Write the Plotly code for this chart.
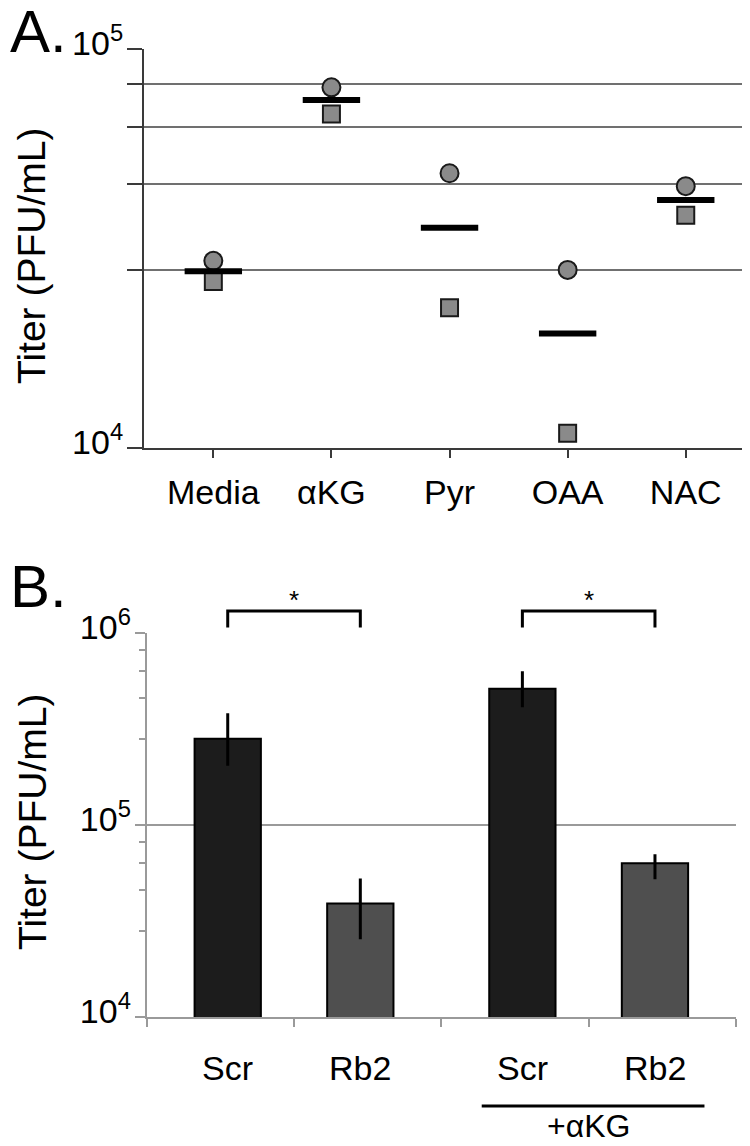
import plotly.graph_objects as go

# Panel A: titer per supplement, two replicates plus their mean
supplements = ["Media", "αKG", "Pyr", "OAA", "NAC"]
rep_circle = [2.95e4, 8.03e4, 4.89e4, 2.80e4, 4.54e4]
rep_square = [2.62e4, 6.88e4, 2.25e4, 1.09e4, 3.84e4]
rep_mean = [2.78e4, 7.46e4, 3.57e4, 1.94e4, 4.19e4]
a_ticks = [1e4, 2.8e4, 4.6e4, 6.4e4, 8.2e4, 1e5]
a_ticktext = ["10<sup>4</sup>", "", "", "", "", "10<sup>5</sup>"]

# Panel B: bars for Scr / Rb2, without and with aKG
groups = [0, 1]
scr_titer = [2.82e5, 5.15e5]
scr_err_up = [1.01e5, 1.19e5]
scr_err_down = [0.78e5, 1.03e5]
rb2_titer = [3.92e4, 6.34e4]
rb2_err_up = [1.37e4, 0.72e4]
rb2_err_down = [1.37e4, 1.11e4]
b_ticks = [1e4, 1e5, 1e6]
b_ticktext = ["10<sup>4</sup>", "10<sup>5</sup>", "10<sup>6</sup>"]
b_minor = [2.8e4, 4.6e4, 6.4e4, 8.2e4, 2.8e5, 4.6e5, 6.4e5, 8.2e5]

FONT = "Liberation Sans, Arial, sans-serif"
# the page body adds an 8px margin, so the figure is drawn 8px smaller
OFF = 8
W = 750 - OFF
H = 1146 - OFF


def px(pix):
    # screen column -> paper x
    return (pix - OFF) / W


def py(pix):
    # screen row -> paper y
    return (H - (pix - OFF)) / H


fig = go.Figure()

fig.add_trace(go.Scatter(
    x=list(range(len(supplements))), y=rep_circle, mode="markers",
    marker=dict(symbol="circle", size=18, color="#8a8a8a",
                line=dict(color="#1a1a1a", width=2)),
    xaxis="x", yaxis="y",
))
fig.add_trace(go.Scatter(
    x=list(range(len(supplements))), y=rep_square, mode="markers",
    marker=dict(symbol="square", size=17, color="#8a8a8a",
                line=dict(color="#1a1a1a", width=2)),
    xaxis="x", yaxis="y",
))
fig.add_trace(go.Scatter(
    x=list(range(len(supplements))), y=rep_mean, mode="markers",
    marker=dict(symbol="line-ew", size=41, line=dict(color="black", width=6)),
    xaxis="x", yaxis="y",
))

fig.add_trace(go.Bar(
    x=groups, y=scr_titer, marker=dict(color="#1c1c1c", line=dict(color="black", width=2)),
    error_y=dict(type="data", array=scr_err_up, arrayminus=scr_err_down,
                 color="black", thickness=3, width=0),
    xaxis="x2", yaxis="y2",
))
fig.add_trace(go.Bar(
    x=groups, y=rb2_titer, marker=dict(color="#4f4f4f", line=dict(color="black", width=2)),
    error_y=dict(type="data", array=rb2_err_up, arrayminus=rb2_err_down,
                 color="black", thickness=3, width=0),
    xaxis="x2", yaxis="y2",
))

fig.update_layout(
    width=W, height=H,
    margin=dict(l=0, r=0, t=0, b=0, autoexpand=False),
    paper_bgcolor="white", plot_bgcolor="white",
    showlegend=False,
    font=dict(family=FONT, color="black", size=33),
    barmode="group", bargap=0.1, bargroupgap=0.5,
    xaxis=dict(
        domain=[px(144), 1.0], anchor="y", automargin=False,
        range=[-0.587, 4.544],
        tickmode="array", tickvals=list(range(len(supplements))), ticktext=supplements,
        ticks="outside", ticklen=8, tickwidth=2, tickcolor="#3a3a3a",
        showline=True, linecolor="#3a3a3a", linewidth=2,
        showgrid=False, zeroline=False,
        tickfont=dict(size=34), ticklabelstandoff=5,
    ),
    yaxis=dict(
        domain=[py(448.3), py(49.3)], anchor="x", automargin=False,
        type="log", range=[4, 5],
        tickmode="array", tickvals=a_ticks, ticktext=a_ticktext,
        ticks="outside", ticklen=15, tickwidth=2, tickcolor="#3a3a3a",
        showline=True, linecolor="#3a3a3a", linewidth=2,
        showgrid=True, gridcolor="#707070", gridwidth=2, zeroline=False,
        tickfont=dict(size=34), ticklabelstandoff=-3, ticklabelshift=-6,
    ),
    xaxis2=dict(
        domain=[px(146.7), px(736)], anchor="y2", automargin=False,
        range=[-0.5, 1.5],
        tickmode="array", tickvals=[-0.5, 0, 0.5, 1, 1.5], ticktext=["", "", "", "", ""],
        ticks="outside", ticklen=8, tickwidth=2, tickcolor="#9a9a9a",
        showline=True, linecolor="#9a9a9a", linewidth=2,
        showgrid=False, zeroline=False,
    ),
    yaxis2=dict(
        domain=[py(1017.3), py(633.3)], anchor="x2", automargin=False,
        type="log", range=[4, 6],
        tickmode="array", tickvals=b_ticks, ticktext=b_ticktext,
        ticks="outside", ticklen=10, tickwidth=2, tickcolor="#9a9a9a",
        showline=True, linecolor="#9a9a9a", linewidth=2,
        showgrid=True, gridcolor="#9a9a9a", gridwidth=2, zeroline=False,
        tickfont=dict(size=34), ticklabelstandoff=-3, ticklabelshift=-6,
        minor=dict(tickmode="array", tickvals=b_minor, ticks="outside",
                   ticklen=6, tickwidth=2, tickcolor="#9a9a9a", showgrid=False),
    ),
)


def label(text, x, y, size, xref="paper", **kw):
    fig.add_annotation(text=text, x=x, y=y, xref=xref, yref="paper", showarrow=False,
                       xanchor=kw.pop("xanchor", "center"), yanchor=kw.pop("yanchor", "middle"),
                       font=dict(size=size), **kw)


# axis titles and panel letters
label("Titer (PFU/mL)", px(32), py(256), 39, textangle=-90)
label("Titer (PFU/mL)", px(32), py(822), 39, textangle=-90)
label("A.", 0, py(31), 60, xanchor="left")
label("B.", 0, py(586), 60, xanchor="left")

# bar labels under panel B
offset = (1 - 0.1) / 4
for g in groups:
    for dx, name in ((-offset, "Scr"), (offset, "Rb2")):
        label(name, g + dx, py(1068), 34, xref="x2")
    # significance bracket over each pair
    x0, x1 = g - offset, g + offset
    fig.add_shape(type="path", xref="x2", yref="paper",
                  path=f"M {x0},{py(627.5)} L {x0},{py(611)} L {x1},{py(611)} L {x1},{py(627.5)}",
                  line=dict(color="black", width=3))
    label("*", g, py(600), 26, xref="x2")

fig.add_shape(type="line", xref="x2", yref="paper", x0=0.637, x1=1.393,
              y0=py(1106), y1=py(1106), line=dict(color="black", width=3))
label("+αKG", 1.0, py(1126), 32, xref="x2")

fig.write_html("out.html")
